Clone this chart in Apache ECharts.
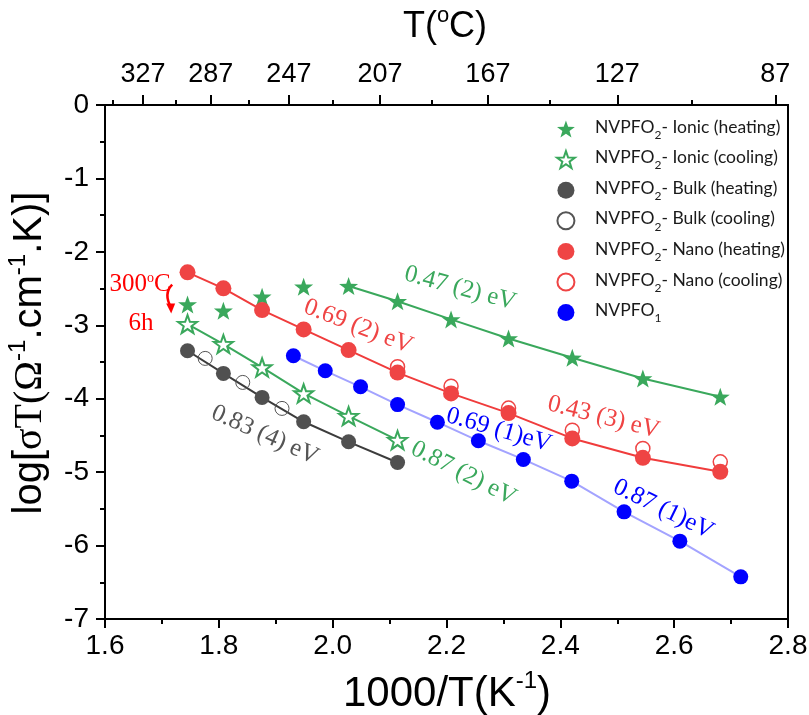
<!DOCTYPE html>
<html><head><meta charset="utf-8">
<script src="https://cdn.jsdelivr.net/npm/echarts@6/dist/echarts.min.js"></script>
<style>html,body{margin:0;padding:0;background:#fff}#c{width:809px;height:715px}</style>
</head><body><div id="c"></div>
<script>
// ---- data ----
const xHeat = [1.745, 1.808, 1.876, 1.949, 2.028, 2.114, 2.208, 2.309, 2.421, 2.545, 2.681];
const ionicHeatY = [-2.716, -2.802, -2.611, -2.475, -2.466, -2.672, -2.920, -3.179, -3.443, -3.724, -3.974];
const ionicCoolX = [1.745, 1.808, 1.876, 1.949, 2.028, 2.114];
const ionicCoolY = [-2.984, -3.256, -3.574, -3.928, -4.237, -4.564];
const bulkHeatX = [1.745, 1.808, 1.876, 1.949, 2.028, 2.114];
const bulkHeatY = [-3.347, -3.655, -3.982, -4.314, -4.587, -4.869];
const bulkCoolX = [1.776, 1.842, 1.911];
const bulkCoolY = [-3.451, -3.778, -4.132];
const nanoHeatY = [-2.279, -2.497, -2.793, -3.056, -3.338, -3.644, -3.928, -4.196, -4.541, -4.805, -4.995];
const nanoCoolX = [2.114, 2.208, 2.309, 2.421, 2.545, 2.681];
const nanoCoolY = [-3.565, -3.830, -4.128, -4.430, -4.677, -4.860];
const nvpfo1X = [1.931, 1.987, 2.049, 2.114, 2.184, 2.256, 2.335, 2.420, 2.512, 2.610, 2.717];
const nvpfo1Y = [-3.415, -3.620, -3.838, -4.080, -4.320, -4.573, -4.827, -5.123, -5.541, -5.940, -6.426];
const ionicFitStart = 4; // ionic heating fit line starts at 5th point
const topTempLabels = [327, 287, 247, 207, 167, 127, 87];
const topTempMinor = [347, 307, 267, 227, 187, 147, 107];
const seriesNames = ['NVPFO2- Ionic (heating)', 'NVPFO2- Ionic (cooling)', 'NVPFO2- Bulk (heating)',
  'NVPFO2- Bulk (cooling)', 'NVPFO2- Nano (heating)', 'NVPFO2- Nano (cooling)', 'NVPFO1'];
const annotations = [
  {text: '0.47 (2) eV', x: 2.224, y: -2.497, angle: 15, color: '#3aa85c'},
  {text: '0.69 (2) eV', x: 2.045, y: -3.019, angle: 21, color: '#ef4444'},
  {text: '0.43 (3) eV', x: 2.476, y: -4.253, angle: 14, color: '#ef4444'},
  {text: '0.69 (1)eV', x: 2.292, y: -4.426, angle: 16, color: '#0000ff'},
  {text: '0.87 (1)eV', x: 2.581, y: -5.506, angle: 26, color: '#0000ff'},
  {text: '0.87 (2) eV', x: 2.230, y: -5.016, angle: 27, color: '#3aa85c'},
  {text: '0.83 (4) eV', x: 1.881, y: -4.494, angle: 24, color: '#555555'}
];

// ---- styles ----
const GREEN = '#3aa85c', RED = '#ef4444', GREY = '#505050', BLUE = '#0000ff';
const zip = (xs, ys) => xs.map((x, i) => [x, ys[i]]);
function starPath() {
  let p = [];
  for (let i = 0; i < 10; i++) {
    const r = i % 2 === 0 ? 50 : 20;
    const a = -Math.PI / 2 + i * Math.PI / 5;
    p.push((50 + r * Math.cos(a)).toFixed(2) + ',' + (50 + r * Math.sin(a)).toFixed(2));
  }
  return 'path://M' + p.join(' L') + ' Z';
}
const STAR = starPath();
const toT = t => 1000 / (t + 273);

const chart = echarts.init(document.getElementById('c'), null, {renderer: 'canvas'});
const axisFont = {fontFamily: 'Liberation Sans, Arial', color: '#000'};
const lineSeries = (data, color, w) => ({type: 'line', data, symbol: 'none', silent: true, z: 1,
  lineStyle: {color, width: w || 2, opacity: 1}, xAxisIndex: 0, yAxisIndex: 0, animation: false});

const option = {
  animation: false,
  backgroundColor: '#fff',
  grid: {left: 105, right: 21, top: 105, bottom: 96, show: true, borderColor: '#000', borderWidth: 2,
    outerBoundsMode: 'none', containLabel: false},
  xAxis: [
    {type: 'value', position: 'bottom', min: 1.6, max: 2.8, interval: 0.2,
      axisLine: {show: true, onZero: false, lineStyle: {color: '#000', width: 2}},
      axisTick: {show: true, inside: false, length: 9, lineStyle: {color: '#000', width: 2}},
      minorTick: {show: true, splitNumber: 2, length: 5, lineStyle: {color: '#000', width: 2}},
      splitLine: {show: false},
      axisLabel: Object.assign({fontSize: 28, margin: 13, formatter: v => v.toFixed(1)}, axisFont)},
    {type: 'value', position: 'top', min: 1.6, max: 2.8,
      axisLine: {show: true, onZero: false, lineStyle: {color: '#000', width: 2}},
      axisTick: {show: true, inside: false, length: 10, customValues: topTempLabels.map(toT), lineStyle: {color: '#000', width: 2}},
      splitLine: {show: false},
      axisLabel: Object.assign({fontSize: 27, margin: 17, customValues: topTempLabels.map(toT),
        formatter: v => String(Math.round(1000 / v - 273))}, axisFont)},
    {type: 'value', position: 'top', min: 1.6, max: 2.8,
      axisLine: {show: false},
      axisTick: {show: true, inside: false, length: 5, customValues: topTempMinor.map(toT), lineStyle: {color: '#000', width: 2}},
      splitLine: {show: false},
      axisLabel: {show: false}}
  ],
  yAxis: [
    {type: 'value', min: -7, max: 0, interval: 1,
      axisLine: {show: true, onZero: false, lineStyle: {color: '#000', width: 2}},
      axisTick: {show: true, inside: false, length: 9, lineStyle: {color: '#000', width: 2}},
      minorTick: {show: true, splitNumber: 2, length: 5, lineStyle: {color: '#000', width: 2}},
      splitLine: {show: false},
      axisLabel: Object.assign({fontSize: 28, margin: 16}, axisFont)}
  ],
  legend: {
    data: seriesNames, orient: 'vertical', left: 556, top: 118, padding: 0,
    itemWidth: 24, itemHeight: 17, itemGap: 7.6, selectedMode: false,
    formatter: n => {
      const m = n.match(/^NVPFO(\d)(.*)$/);
      return '{b|NVPFO}{sub|' + m[1] + '}' + (m[2] ? '{b|' + m[2] + '}' : '');
    },
    textStyle: {color: '#1a1a1a', fontFamily: 'Lato', fontSize: 17.5, padding: [0, 0, 0, 12],
      rich: {
        b: {fontFamily: 'Lato', fontSize: 17.5, lineHeight: 22, verticalAlign: 'top', color: '#1a1a1a'},
        sub: {fontFamily: 'Lato', fontSize: 12, lineHeight: 11, padding: [11, 0, 0, 0], verticalAlign: 'top', color: '#1a1a1a'}
      }}
  },
  series: [
    lineSeries(zip(xHeat.slice(ionicFitStart), ionicHeatY.slice(ionicFitStart)), GREEN),
    lineSeries(zip(ionicCoolX, ionicCoolY), GREEN),
    lineSeries(zip(bulkHeatX, bulkHeatY), '#3c3c3c'),
    lineSeries(zip(xHeat, nanoHeatY), '#f03c3c'),
    lineSeries(zip(nvpfo1X, nvpfo1Y), '#a3a3ff'),
    {name: seriesNames[0], type: 'scatter', data: zip(xHeat, ionicHeatY), symbol: STAR, symbolSize: 19,
      symbolKeepAspect: true, itemStyle: {color: GREEN, opacity: 1}, z: 3},
    {name: seriesNames[1], type: 'scatter', data: zip(ionicCoolX, ionicCoolY), symbol: STAR, symbolSize: 19,
      symbolKeepAspect: true, itemStyle: {color: '#fff', borderColor: GREEN, borderWidth: 2, opacity: 1}, z: 3},
    {name: seriesNames[3], type: 'scatter', data: zip(bulkCoolX, bulkCoolY), symbol: 'circle', symbolSize: 14,
      itemStyle: {color: 'rgba(255,255,255,0)', borderColor: '#555', borderWidth: 1, opacity: 1}, z: 3},
    {name: seriesNames[2], type: 'scatter', data: zip(bulkHeatX, bulkHeatY), symbol: 'circle', symbolSize: 15,
      itemStyle: {color: GREY, opacity: 1}, z: 3},
    {name: seriesNames[5], type: 'scatter', data: zip(nanoCoolX, nanoCoolY), symbol: 'circle', symbolSize: 14,
      itemStyle: {color: 'rgba(255,255,255,0)', borderColor: RED, borderWidth: 1.5, opacity: 1}, z: 3},
    {name: seriesNames[4], type: 'scatter', data: zip(xHeat, nanoHeatY), symbol: 'circle', symbolSize: 16,
      itemStyle: {color: RED, opacity: 1}, z: 3},
    {name: seriesNames[6], type: 'scatter', data: zip(nvpfo1X, nvpfo1Y), symbol: 'circle', symbolSize: 15,
      itemStyle: {color: BLUE, opacity: 1}, z: 3}
  ]
};
chart.setOption(option);

// ---- annotations & titles ----
const px = (x, y) => chart.convertToPixel({gridIndex: 0}, [x, y]);
const serif = 'Liberation Serif, Times New Roman, serif';
const g = annotations.map(a => {
  const p = px(a.x, a.y);
  return {type: 'text', x: p[0], y: p[1], rotation: -a.angle * Math.PI / 180, z: 10,
    style: {text: a.text, fill: a.color, fontSize: 25, fontFamily: serif, align: 'center', verticalAlign: 'middle'}};
});
const t300 = px(1.6615, -2.438), t6h = px(1.6633, -2.969), arr = px(1.718, -2.65);
g.push({type: 'text', x: t300[0], y: t300[1], z: 10,
  style: {text: '300{s|o}C', fill: '#ff0000', fontSize: 25, fontFamily: serif, align: 'center', verticalAlign: 'middle',
    rich: {s: {fontSize: 14, fontFamily: serif, fill: '#ff0000', verticalAlign: 'top', lineHeight: 14}}}});
g.push({type: 'text', x: t6h[0], y: t6h[1], z: 10,
  style: {text: '6h', fill: '#ff0000', fontSize: 25, fontFamily: serif, align: 'center', verticalAlign: 'middle'}});
g.push({type: 'group', x: arr[0], y: arr[1], z: 10, children: [
  {type: 'bezierCurve', shape: {x1: 0, y1: -15, cpx1: -9, cpy1: -6, x2: -1, y2: 8},
    style: {stroke: '#ff0000', lineWidth: 2.5, fill: null}},
  {type: 'polygon', shape: {points: [[-6, 4], [3, 4], [-1, 14]]}, style: {fill: '#ff0000'}}
]});
// axis titles
g.push({type: 'text', x: 447, y: 692, z: 10,
  style: {text: '{b|1000/T(K}{p|-1}{b|)}', align: 'center', verticalAlign: 'middle', fill: '#000',
    rich: {b: {fontSize: 42, fontFamily: 'Liberation Sans, Arial', lineHeight: 46, verticalAlign: 'bottom', fill: '#000'},
           p: {fontSize: 24, fontFamily: 'Liberation Sans, Arial', lineHeight: 24, verticalAlign: 'top', fill: '#000'}}}});
g.push({type: 'text', x: 445, y: 25, z: 10,
  style: {text: '{b|T(}{p|o}{b|C)}', align: 'center', verticalAlign: 'middle', fill: '#000',
    rich: {b: {fontSize: 36, fontFamily: 'Liberation Sans, Arial', lineHeight: 40, verticalAlign: 'bottom', fill: '#000'},
           p: {fontSize: 22, fontFamily: 'Liberation Sans, Arial', lineHeight: 24, verticalAlign: 'top', fill: '#000'}}}});
g.push({type: 'text', x: 28, y: 353, rotation: Math.PI / 2, z: 10,
  style: {text: '{b|log[}{s|σT(Ω}{p|-1}{b|.cm}{p|-1}{b|.K)]}', align: 'center', verticalAlign: 'middle', fill: '#000',
    rich: {b: {fontSize: 40, fontFamily: 'Liberation Sans, Arial', lineHeight: 44, verticalAlign: 'bottom', fill: '#000'},
           s: {fontSize: 40, fontFamily: serif, lineHeight: 44, verticalAlign: 'bottom', fill: '#000'},
           p: {fontSize: 24, fontFamily: 'Liberation Sans, Arial', lineHeight: 24, verticalAlign: 'top', fill: '#000'}}}});
chart.setOption({graphic: g});
</script>
</body></html>
